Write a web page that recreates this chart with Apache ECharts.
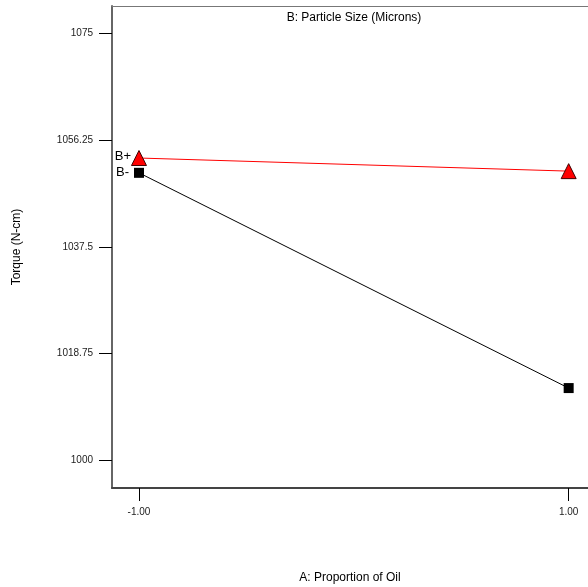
<!DOCTYPE html>
<html><head><meta charset="utf-8">
<script src="https://cdn.jsdelivr.net/npm/echarts@6/dist/echarts.min.js"></script>
<style>html,body{margin:0;padding:0;background:#fff}#c{width:588px;height:587px}</style>
</head><body><div id="c"></div>
<script>
const xLevels = [-1, 1];
const xTickLabels = ['-1.00', '1.00'];
const yTicks = [1000, 1018.75, 1037.5, 1056.25, 1075];
const yTickLabels = ['1000', '1018.75', '1037.5', '1056.25', '1075'];
const bPlus = [1053.1, 1050.8];
const bMinus = [1050.5, 1012.7];
const seriesNames = ['B+', 'B-'];

const chart = echarts.init(document.getElementById('c'));
const font = 'Liberation Sans, Arial, sans-serif';
function pairs(vals){ return xLevels.map((x,i)=>[x, vals[i]]); }
chart.setOption({
  animation: false,
  title: { text: 'B: Particle Size (Microns)', left: 349, top: 7, textAlign: 'center',
    textStyle: { fontFamily: font, fontSize: 12, fontWeight: 'normal', color: '#000' } },
  grid: { left: 112, top: 6, right: 0, bottom: 99, show: false, containLabel: false, outerBoundsMode: 'none' },
  xAxis: [{
    type: 'value', min: -1.1256, max: 1.09,
    name: 'A: Proportion of Oil', nameLocation: 'middle', nameGap: 84,
    nameTextStyle: { fontFamily: font, fontSize: 12, color: '#000' },
    axisLine: { show: true, onZero: false, lineStyle: { color: '#444', width: 2 } },
    axisTick: { show: true, customValues: xLevels, length: 13, lineStyle: { color: '#000' } },
    axisLabel: { customValues: xLevels, formatter: v => xTickLabels[xLevels.indexOf(v)] ?? '',
      margin: 19, fontFamily: font, fontSize: 10, color: '#222' },
    splitLine: { show: false }
  }, {
    type: 'value', position: 'top', min: -1.1256, max: 1.09,
    axisLine: { show: true, onZero: false, lineStyle: { color: '#777', width: 1 } },
    axisTick: { show: false }, axisLabel: { show: false }, splitLine: { show: false }
  }],
  yAxis: {
    type: 'value', min: 995.15, max: 1079.8,
    name: 'Torque (N-cm)', nameLocation: 'middle', nameGap: 89, nameRotate: 90,
    nameTextStyle: { fontFamily: font, fontSize: 12, color: '#000' },
    axisLine: { show: true, onZero: false, lineStyle: { color: '#666', width: 2 } },
    axisTick: { show: true, customValues: yTicks, length: 13, lineStyle: { color: '#000' } },
    axisLabel: { customValues: yTicks, formatter: v => { const i = yTicks.findIndex(t => Math.abs(t - v) < 1e-6); return i >= 0 ? yTickLabels[i] : ''; },
      margin: 19, fontFamily: font, fontSize: 10, color: '#222' },
    splitLine: { show: false }
  },
  series: [
    { name: seriesNames[0], type: 'line', data: pairs(bPlus), symbol: 'triangle', symbolSize: 15,
      itemStyle: { color: '#ff0000', borderColor: '#400000', borderWidth: 1 },
      lineStyle: { color: '#ff0000', width: 1 },
      label: { show: true, position: 'left', distance: 0, offset: [0, -2], fontFamily: font, fontSize: 13, color: '#000',
        formatter: p => p.dataIndex === 0 ? seriesNames[0] : '' } },
    { name: seriesNames[1], type: 'line', data: pairs(bMinus), symbol: 'rect', symbolSize: 10,
      itemStyle: { color: '#000' },
      lineStyle: { color: '#000', width: 1 },
      label: { show: true, position: 'left', distance: 5, fontFamily: font, fontSize: 13, color: '#000',
        formatter: p => p.dataIndex === 0 ? seriesNames[1] : '' } }
  ]
});
</script></body></html>
